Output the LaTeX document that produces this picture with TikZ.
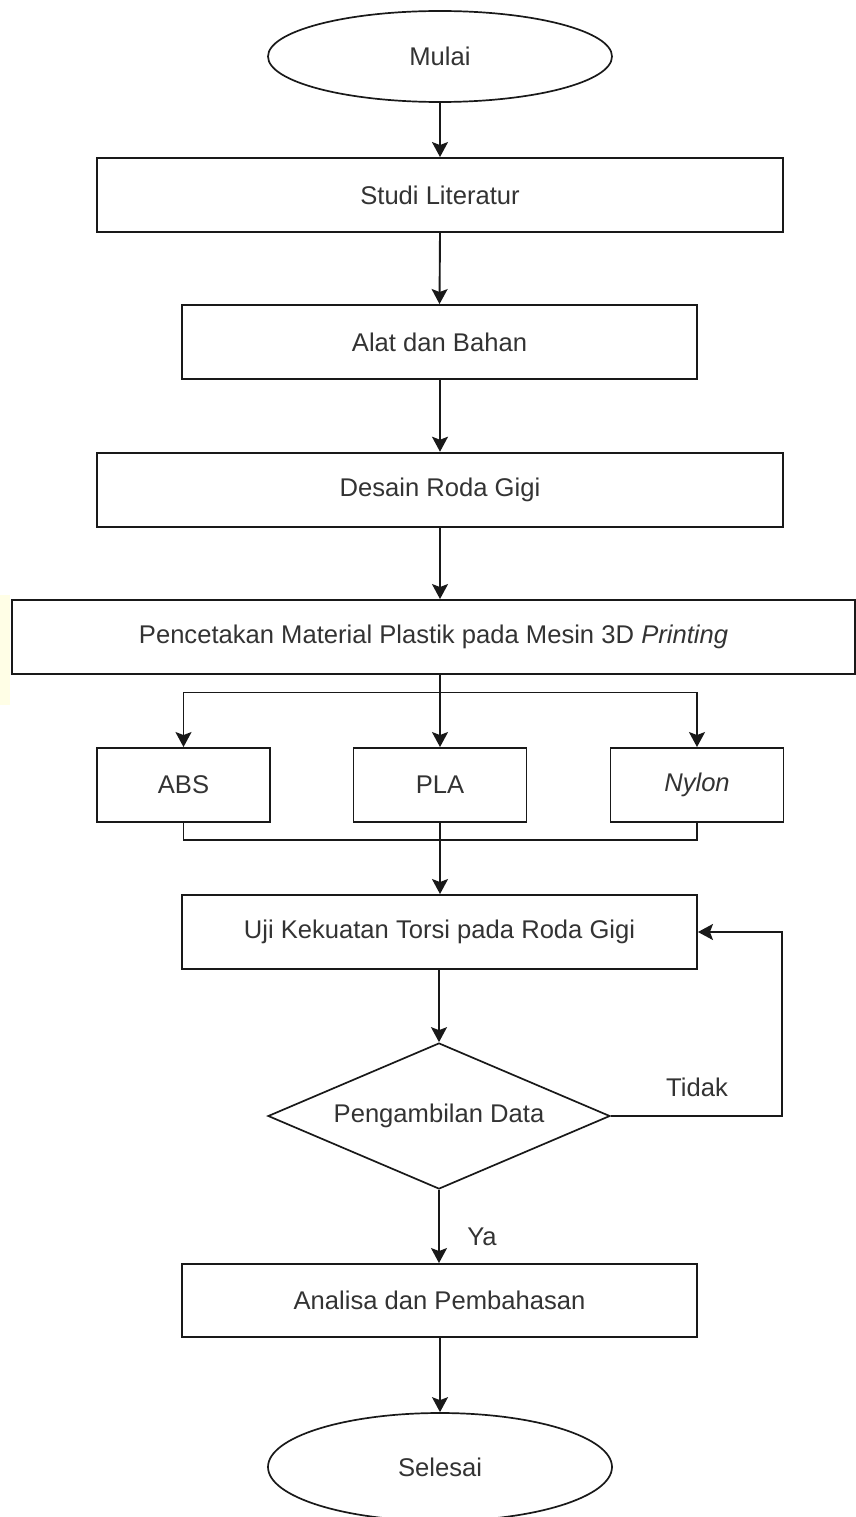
\documentclass[tikz,border=0pt]{standalone}
\usepackage{fontspec}
\setmainfont{Liberation Sans}
\usetikzlibrary{shapes.geometric,arrows.meta}
\begin{document}
\begin{tikzpicture}[x=1pt,y=-1pt,
  every node/.style={font=\fontsize{25.6}{30}\selectfont, text=black!80},
  proc/.style={draw=black!90, line width=1.9pt, rectangle, minimum height=74pt, inner sep=0pt},
  term/.style={draw=black!90, line width=1.7pt, ellipse, inner sep=0pt, minimum width=344pt},
  decide/.style={draw=black!90, line width=1.7pt, diamond, aspect=2.34, inner sep=0pt, minimum width=342pt, minimum height=146pt},
  conn/.style={draw=black!90, line width=1.9pt},
  arr/.style={conn, -{Stealth[length=15pt,width=16pt,inset=3pt]}},
  lbl/.style={font=\fontsize{25.6}{30}\selectfont, text=black!80}
]
\useasboundingbox (0,0) rectangle (856,1517);
\fill[yellow!10] (0,595) rectangle (10,705);

\node[term, minimum height=91pt] (mulai) at (440,56.5) {Mulai};
\node[proc, minimum width=686pt] (studi) at (440,195) {Studi Literatur};
\node[proc, minimum width=515pt] (alat) at (439.5,342) {Alat dan Bahan};
\node[proc, minimum width=686pt] (desain) at (440,489.7) {Desain Roda Gigi};
\node[proc, minimum width=843pt] (cetak) at (433.5,637) {Pencetakan Material Plastik pada Mesin 3D \textit{Printing}};
\node[proc, minimum width=173pt] (abs) at (183.5,785) {ABS};
\node[proc, minimum width=173pt] (pla) at (440,785) {PLA};
\node[proc, minimum width=173pt] (nylon) at (697,785) {\textit{Nylon}};
\node[proc, minimum width=515pt] (uji) at (439.5,932) {Uji Kekuatan Torsi pada Roda Gigi};
\node[decide] (dec) at (439,1116) {Pengambilan Data};
\node[proc, minimum width=515pt, minimum height=73pt] (analisa) at (439.5,1300.5) {Analisa dan Pembahasan};
\node[term, minimum height=108pt] (selesai) at (440,1467) {Selesai};

\coordinate (br) at (440,692.5);
\coordinate (mg) at (440,840);
\coordinate (rt) at (782,1116);

\draw[arr] (mulai.south) -- (studi.north);
\draw[arr] (studi.south) -- (alat.north);
\draw[arr] (alat.south -| desain.north) -- (desain.north);
\draw[arr] (desain.south) -- (desain.south |- cetak.north);
\draw[arr] (cetak.south -| pla.north) -- (pla.north);
\draw[arr] (br) -| (abs.north);
\draw[arr] (br) -| (nylon.north);
\draw[conn] (abs.south) |- (mg);
\draw[conn] (nylon.south) |- (mg);
\draw[arr] (pla.south) -- (pla.south |- uji.north);
\draw[arr] (uji.south -| dec.north) -- (dec.north);
\draw[arr] (dec.south) -- (dec.south |- analisa.north);
\draw[arr] (dec.east) -- (rt) |- (uji.east);
\draw[arr] (analisa.south -| selesai.north) -- (selesai.north);

\node[lbl] (tidak) at (697,1087) {Tidak};
\node[lbl] (ya) at (482,1237) {Ya};
\end{tikzpicture}
\end{document}
